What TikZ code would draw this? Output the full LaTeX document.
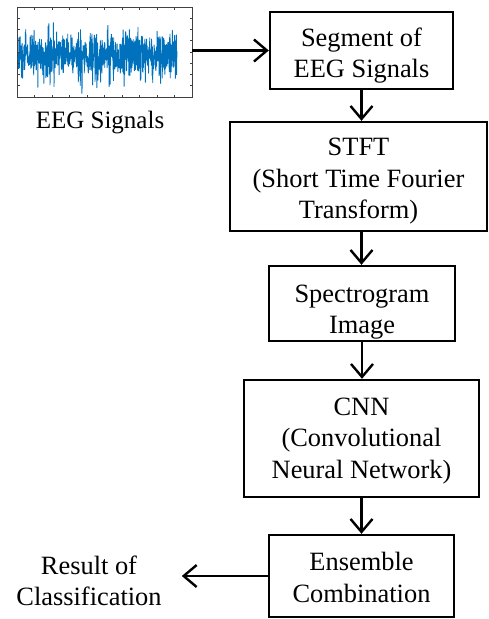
\documentclass[tikz,border=0pt]{standalone}
\usepackage{fontspec}
\setmainfont{Liberation Serif}
\usetikzlibrary{arrows.meta}
\definecolor{sigblue}{RGB}{0,114,189}
\begin{document}
\begin{tikzpicture}[x=1pt,y=-1pt,
 box/.style={draw, line width=2.4pt, rectangle, inner sep=0pt},
 lbl/.style={inner sep=0pt, align=center, font=\fontsize{26.4}{31.5}\selectfont},
 flow/.style={line width=2.4pt, -{Straight Barb[length=13pt,width=22pt]}},
 axes/.style={draw=black!75, line width=0.8pt, rectangle, inner sep=0pt},
 tick/.style={draw=black!75, line width=0.6pt},
]
\useasboundingbox (0,0) rectangle (489,619);

% EEG plot
\node[axes, minimum width=175pt, minimum height=90pt] (plot) at (104.5,52) {};
\pgfmathsetseed{42}
\begin{scope}
\clip (plot.south west) rectangle (plot.north east);
\draw[sigblue, line width=0.9pt, line join=round] plot[domain=18:177, samples=800]
  (\x, {55 + (16+5*sin(\x*9)+4*sin(\x*23+40))*rand + 22*pow(rand,5)});
\end{scope}
\foreach \i in {0,...,8} {
  \draw[tick] (17,7+11.25*\i) -- (19.5,7+11.25*\i);
  \draw[tick] (192,7+11.25*\i) -- (189.5,7+11.25*\i);
}
\foreach \i in {0,...,10} {
  \draw[tick] (17+17.5*\i,97) -- (17+17.5*\i,94.5);
  \draw[tick] (17+17.5*\i,7) -- (17+17.5*\i,9.5);
}
\node[lbl, font=\fontsize{25}{30}\selectfont, anchor=base] (eeglbl) at (100,128) {EEG Signals};

% flow boxes
\node[box, minimum width=183pt, minimum height=77pt,
  label={[lbl, yshift=-5pt]center:{Segment of\\EEG Signals}}] (seg) at (361.5,50.5) {};
\node[box, minimum width=257pt, minimum height=109pt,
  label={[lbl, yshift=-5pt]center:{STFT\\(Short Time Fourier\\Transform)}}] (stft) at (358.5,176.5) {};
\node[box, minimum width=186pt, minimum height=75pt,
  label={[lbl, yshift=-8.5pt]center:{Spectrogram\\Image}}] (spec) at (362,303.5) {};
\node[box, minimum width=235pt, minimum height=117pt,
  label={[lbl, yshift=-2.3pt]center:{CNN\\(Convolutional\\Neural Network)}}] (cnn) at (361.5,438.5) {};
\node[box, minimum width=185pt, minimum height=82pt,
  label={[lbl, yshift=-1.7pt]center:{Ensemble\\Combination}}] (ens) at (361.5,576) {};
\node[lbl] (res) at (89,581) {Result of\\Classification};

% connectors
\draw[flow] (plot.east |- seg.west) -- (seg.west);
\draw[flow] (seg.south) -- (seg.south |- stft.north);
\draw[flow] (seg.south |- stft.south) -- (seg.south |- spec.north);
\draw[flow] (spec.south) -- (spec.south |- cnn.north);
\draw[flow] (cnn.south) -- (cnn.south |- ens.north);
\draw[flow] (ens.west) -- ++(-86,0) coordinate (resend);
\end{tikzpicture}
\end{document}
